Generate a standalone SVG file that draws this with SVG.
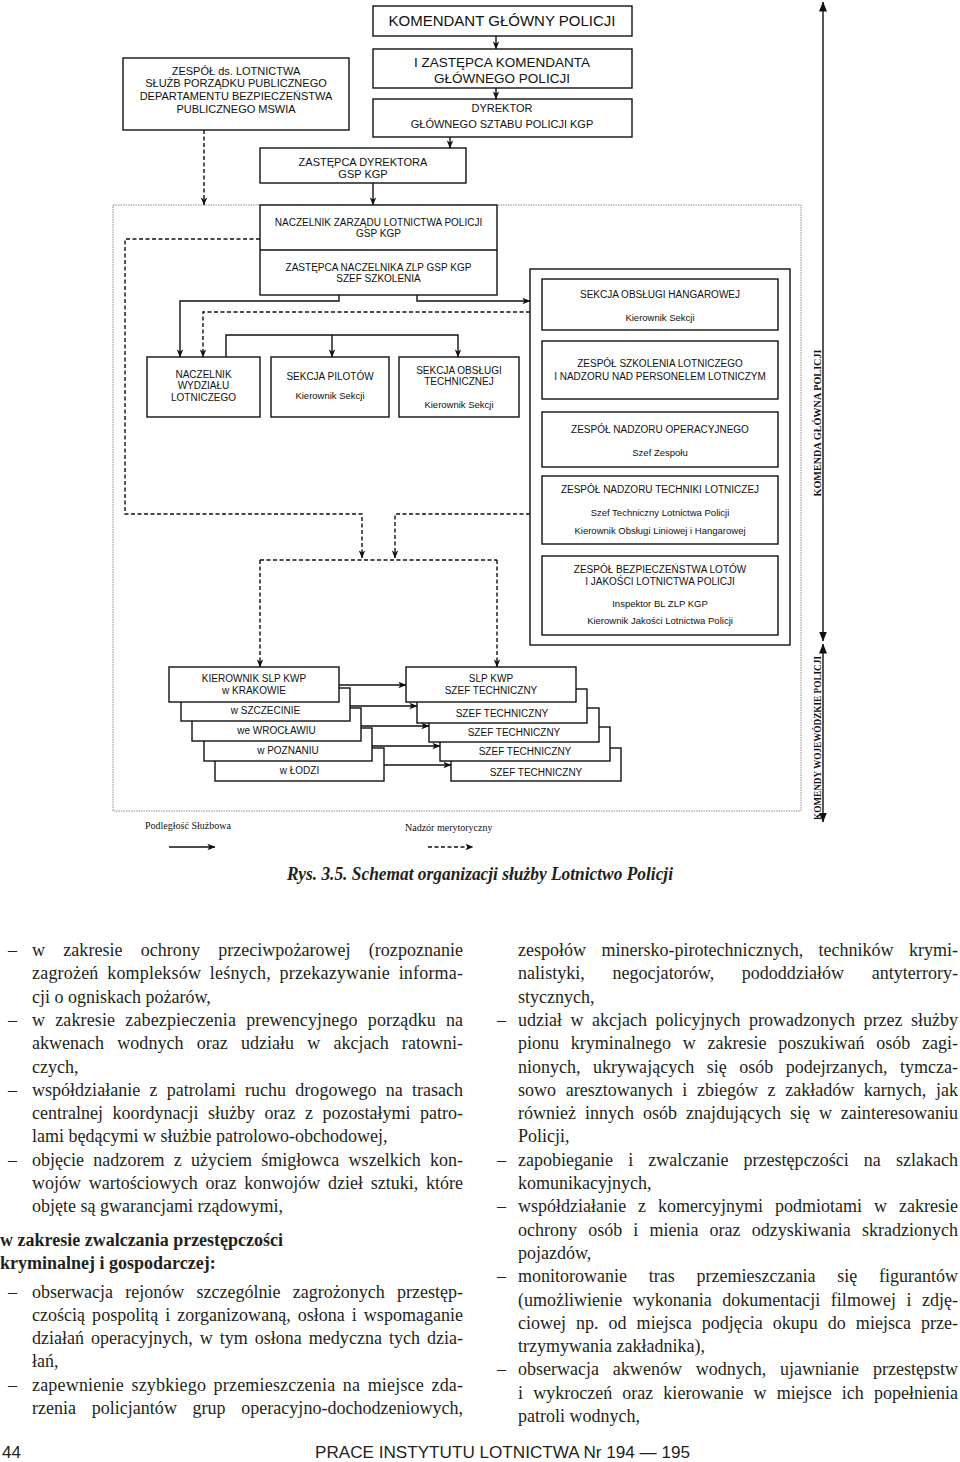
<svg xmlns="http://www.w3.org/2000/svg" width="960" height="1462" viewBox="0 0 960 1462">
<style>
.box{fill:#fff;stroke:#111;stroke-width:1.4}
.t{font-family:"Liberation Sans",Arial,sans-serif;font-size:10px;fill:#111;text-anchor:middle}
.ln{fill:none;stroke:#111;stroke-width:1.4}
.dl{fill:none;stroke:#111;stroke-width:1.4;stroke-dasharray:4 2.5}
.bd{fill:none;stroke:#8a8a8a;stroke-width:1;stroke-dasharray:1.5 1}
.vt{font-family:"Liberation Serif","Times New Roman",serif;font-weight:bold;fill:#111;text-anchor:middle}
.lg{font-family:"Liberation Serif","Times New Roman",serif;font-size:10px;fill:#111}
.b{font-family:"Liberation Serif","Times New Roman",serif;font-size:18px;fill:#231f20}
.bb{font-family:"Liberation Serif","Times New Roman",serif;font-size:18px;font-weight:bold;fill:#231f20}
</style>
<defs>
<marker id="a" viewBox="0 0 10 10" refX="9.5" refY="5" markerWidth="8" markerHeight="8" markerUnits="userSpaceOnUse" orient="auto-start-reverse"><path d="M0,1 L10,5 L0,9 L2.5,5 z" fill="#111"/></marker>
<marker id="b" viewBox="0 0 10 10" refX="9.5" refY="5" markerWidth="10" markerHeight="10" markerUnits="userSpaceOnUse" orient="auto-start-reverse"><path d="M0,1 L10,5 L0,9 z" fill="#111"/></marker>
</defs>
<rect width="960" height="1462" fill="#fff"/>

<rect class="bd" x="113" y="205" width="688" height="606"/>

<g id="connectors">
<path class="ln" d="M496,36 V49" marker-end="url(#a)"/>
<path class="ln" d="M496,88 V99" marker-end="url(#a)"/>
<path class="ln" d="M450,137 V148" marker-end="url(#a)"/>
<path class="ln" d="M373,183 V205" marker-end="url(#a)"/>
<path class="dl" d="M204,130 V205" marker-end="url(#a)"/>
<path class="ln" d="M339,295 V301 H180 V357" marker-end="url(#a)"/>
<path class="ln" d="M417,295 V301 H530" marker-end="url(#a)"/>
<path class="dl" d="M530,312 H203 V357" marker-end="url(#a)"/>
<path class="ln" d="M226,357 V335 H458 V357" marker-end="url(#a)"/>
<path class="ln" d="M332,335 V357" marker-end="url(#a)"/>
<path class="dl" d="M260,239 H125 V514 H362 V558" marker-end="url(#a)"/>
<path class="dl" d="M530,514 H395 V558" marker-end="url(#a)"/>
<path class="dl" d="M260,560 H497"/>
<path class="dl" d="M260,560 V667" marker-end="url(#a)"/>
<path class="dl" d="M497,560 V667" marker-end="url(#a)"/>
<path class="ln" d="M339,685 H406" marker-end="url(#a)"/>
<path class="ln" d="M350,706 H417" marker-end="url(#a)"/>
<path class="ln" d="M361,726 H429" marker-end="url(#a)"/>
<path class="ln" d="M372,746 H440" marker-end="url(#a)"/>
<path class="ln" d="M384,765 H451" marker-end="url(#a)"/>
<path class="ln" d="M823,641 V2" stroke-width="2" marker-start="url(#b)" marker-end="url(#b)"/>
<path class="ln" d="M823,644 V822" stroke-width="2" marker-start="url(#b)" marker-end="url(#b)"/>
<path class="ln" d="M169,847 H215" marker-end="url(#a)"/>
<path class="dl" d="M428,847 H473" marker-end="url(#a)"/>
</g>

<g id="kgp"><rect class="box" x="373" y="6" width="259" height="30"/><text class="t" x="502" y="26" style="font-size:15px">KOMENDANT GŁÓWNY POLICJI</text></g>
<g id="izast"><rect class="box" x="373" y="49" width="259" height="39"/><text class="t" x="502" y="67" style="font-size:13.5px">I ZASTĘPCA KOMENDANTA</text><text class="t" x="502" y="83" style="font-size:13.5px">GŁÓWNEGO POLICJI</text></g>
<g id="dyr"><rect class="box" x="373" y="99" width="259" height="38"/><text class="t" x="502" y="112" style="font-size:11px">DYREKTOR</text><text class="t" x="502" y="128" style="font-size:11px">GŁÓWNEGO SZTABU POLICJI KGP</text></g>
<g id="mswia"><rect class="box" x="123" y="58" width="226" height="72"/>
<text class="t" x="236" y="74.5" style="font-size:11px">ZESPÓŁ ds. LOTNICTWA</text>
<text class="t" x="236" y="87" style="font-size:11px">SŁUŻB PORZĄDKU PUBLICZNEGO</text>
<text class="t" x="236" y="100" style="font-size:11px">DEPARTAMENTU BEZPIECZEŃSTWA</text>
<text class="t" x="236" y="113" style="font-size:11px">PUBLICZNEGO MSWIA</text></g>
<g id="zdyr"><rect class="box" x="260" y="148" width="206" height="35"/><text class="t" x="363" y="166" style="font-size:11px">ZASTĘPCA DYREKTORA</text><text class="t" x="363" y="177.5" style="font-size:11px">GSP KGP</text></g>
<g id="nacz"><rect class="box" x="260" y="205" width="237" height="90"/><line class="ln" x1="260" y1="250" x2="497" y2="250"/>
<text class="t" x="378.5" y="225.5">NACZELNIK ZARZĄDU LOTNICTWA POLICJI</text>
<text class="t" x="378.5" y="236.5">GSP KGP</text>
<text class="t" x="378.5" y="270.5">ZASTĘPCA NACZELNIKA ZLP GSP KGP</text>
<text class="t" x="378.5" y="281.5">SZEF SZKOLENIA</text></g>
<g id="nwl"><rect class="box" x="147" y="357" width="113" height="60"/>
<text class="t" x="203.5" y="377.5">NACZELNIK</text><text class="t" x="203.5" y="389">WYDZIAŁU</text><text class="t" x="203.5" y="400.5">LOTNICZEGO</text></g>
<g id="sp"><rect class="box" x="271" y="357" width="118" height="60"/>
<text class="t" x="330" y="379.5">SEKCJA PILOTÓW</text><text class="t" x="330" y="398.5" style="font-size:9.5px">Kierownik Sekcji</text></g>
<g id="sot"><rect class="box" x="399" y="357" width="120" height="60"/>
<text class="t" x="459" y="373.5">SEKCJA OBSŁUGI</text><text class="t" x="459" y="384.5">TECHNICZNEJ</text><text class="t" x="459" y="407.5" style="font-size:9.5px">Kierownik Sekcji</text></g>

<g id="container"><rect class="box" x="530" y="269" width="260" height="376"/></g>
<g id="soh"><rect class="box" x="542" y="279" width="236" height="51"/>
<text class="t" x="660" y="297.5">SEKCJA OBSŁUGI HANGAROWEJ</text><text class="t" x="660" y="320.5" style="font-size:9.5px">Kierownik Sekcji</text></g>
<g id="zsl"><rect class="box" x="542" y="341" width="236" height="58"/>
<text class="t" x="660" y="366.5">ZESPÓŁ SZKOLENIA LOTNICZEGO</text><text class="t" x="660" y="379.5">I NADZORU NAD PERSONELEM LOTNICZYM</text></g>
<g id="zno"><rect class="box" x="542" y="412" width="236" height="55"/>
<text class="t" x="660" y="432.5">ZESPÓŁ NADZORU OPERACYJNEGO</text><text class="t" x="660" y="455.5" style="font-size:9.5px">Szef Zespołu</text></g>
<g id="znt"><rect class="box" x="542" y="476" width="236" height="68"/>
<text class="t" x="660" y="492.5">ZESPÓŁ NADZORU TECHNIKI LOTNICZEJ</text><text class="t" x="660" y="515.5" style="font-size:9.5px">Szef Techniczny Lotnictwa Policji</text><text class="t" x="660" y="533.5" style="font-size:9.5px">Kierownik Obsługi Liniowej i Hangarowej</text></g>
<g id="zbl"><rect class="box" x="542" y="556" width="236" height="79"/>
<text class="t" x="660" y="572.5">ZESPÓŁ BEZPIECZEŃSTWA LOTÓW</text><text class="t" x="660" y="584.5">I JAKOŚCI LOTNICTWA POLICJI</text><text class="t" x="660" y="606.5" style="font-size:9.5px">Inspektor BL ZLP KGP</text><text class="t" x="660" y="623.5" style="font-size:9.5px">Kierownik Jakości Lotnictwa Policji</text></g>

<g id="lodz"><rect class="box" x="215" y="748" width="169" height="33"/><text class="t" x="299.5" y="773.5">w ŁODZI</text></g>
<g id="poznan"><rect class="box" x="204" y="728" width="168" height="33"/><text class="t" x="288" y="753.5">w POZNANIU</text></g>
<g id="wroclaw"><rect class="box" x="192" y="708" width="169" height="33"/><text class="t" x="276.5" y="733.5">we WROCŁAWIU</text></g>
<g id="szczecin"><rect class="box" x="181" y="688" width="169" height="33"/><text class="t" x="265.5" y="713.5">w SZCZECINIE</text></g>
<g id="krakow"><rect class="box" x="169" y="667" width="170" height="35"/><text class="t" x="254" y="681.5">KIEROWNIK SLP KWP</text><text class="t" x="254" y="693.5">w KRAKOWIE</text></g>

<g id="st5"><rect class="box" x="451" y="748" width="170" height="33"/><text class="t" x="536" y="775.5">SZEF TECHNICZNY</text></g>
<g id="st4"><rect class="box" x="440" y="727" width="170" height="34"/><text class="t" x="525" y="754.5">SZEF TECHNICZNY</text></g>
<g id="st3"><rect class="box" x="429" y="708" width="170" height="34"/><text class="t" x="514" y="735.5">SZEF TECHNICZNY</text></g>
<g id="st2"><rect class="box" x="417" y="689" width="170" height="34"/><text class="t" x="502" y="716.5">SZEF TECHNICZNY</text></g>
<g id="st1"><rect class="box" x="406" y="667" width="170" height="35"/><text class="t" x="491" y="681.5">SLP KWP</text><text class="t" x="491" y="693.5">SZEF TECHNICZNY</text></g>

<g id="side-labels">
<text class="vt" transform="translate(821,423) rotate(-90)" font-size="10.5" textLength="147" lengthAdjust="spacingAndGlyphs">KOMENDA GŁÓWNA POLICJI</text>
<text class="vt" transform="translate(821,738) rotate(-90)" font-size="9.5" textLength="164" lengthAdjust="spacingAndGlyphs">KOMENDY WOJEWÓDZKIE POLICJI</text>
</g>

<g id="legend">
<text class="lg" x="145" y="829">Podległość Służbowa</text>
<text class="lg" x="405" y="831">Nadzór merytoryczny</text>
</g>

<text x="480" y="880" text-anchor="middle" font-family="'Liberation Serif','Times New Roman',serif" font-size="18" font-weight="bold" font-style="italic" fill="#231f20" textLength="386" lengthAdjust="spacingAndGlyphs">Rys. 3.5. Schemat organizacji służby Lotnictwo Policji</text>

<g id="left-column">
<text class="b" x="8" y="956">–</text><text class="b" x="32" y="956" style="word-spacing:13.8px" textLength="431" lengthAdjust="spacing">w zakresie ochrony przeciwpożarowej (rozpoznanie</text>
<text class="b" x="32" y="979.3" style="word-spacing:4px" textLength="431" lengthAdjust="spacing">zagrożeń kompleksów leśnych, przekazywanie informa-</text>
<text class="b" x="32" y="1002.6">cji o ogniskach pożarów,</text>
<text class="b" x="8" y="1025.9">–</text><text class="b" x="32" y="1025.9" style="word-spacing:5.5px" textLength="431" lengthAdjust="spacing">w zakresie zabezpieczenia prewencyjnego porządku na</text>
<text class="b" x="32" y="1049.2" style="word-spacing:8.7px" textLength="431" lengthAdjust="spacing">akwenach wodnych oraz udziału w akcjach ratowni-</text>
<text class="b" x="32" y="1072.5">czych,</text>
<text class="b" x="8" y="1095.8">–</text><text class="b" x="32" y="1095.8" style="word-spacing:4.7px" textLength="431" lengthAdjust="spacing">współdziałanie z patrolami ruchu drogowego na trasach</text>
<text class="b" x="32" y="1119.1" style="word-spacing:4.9px" textLength="431" lengthAdjust="spacing">centralnej koordynacji służby oraz z pozostałymi patro-</text>
<text class="b" x="32" y="1142.4">lami będącymi w służbie patrolowo-obchodowej,</text>
<text class="b" x="8" y="1165.7">–</text><text class="b" x="32" y="1165.7" style="word-spacing:4.7px" textLength="431" lengthAdjust="spacing">objęcie nadzorem z użyciem śmigłowca wszelkich kon-</text>
<text class="b" x="32" y="1189" style="word-spacing:3.2px" textLength="431" lengthAdjust="spacing">wojów wartościowych oraz konwojów dzieł sztuki, które</text>
<text class="b" x="32" y="1212.3">objęte są gwarancjami rządowymi,</text>
<text class="bb" x="0" y="1245.5">w zakresie zwalczania przestępczości</text>
<text class="bb" x="0" y="1268.8">kryminalnej i gospodarczej:</text>
<text class="b" x="8" y="1297.5">–</text><text class="b" x="32" y="1297.5" style="word-spacing:7.6px" textLength="431" lengthAdjust="spacing">obserwacja rejonów szczególnie zagrożonych przestęp-</text>
<text class="b" x="32" y="1320.8" style="word-spacing:2.5px" textLength="431" lengthAdjust="spacing">czością pospolitą i zorganizowaną, osłona i wspomaganie</text>
<text class="b" x="32" y="1344.1" style="word-spacing:2.5px" textLength="431" lengthAdjust="spacing">działań operacyjnych, w tym osłona medyczna tych dzia-</text>
<text class="b" x="32" y="1367.4">łań,</text>
<text class="b" x="8" y="1390.7">–</text><text class="b" x="32" y="1390.7" style="word-spacing:2.8px" textLength="431" lengthAdjust="spacing">zapewnienie szybkiego przemieszczenia na miejsce zda-</text>
<text class="b" x="32" y="1414" style="word-spacing:11.2px" textLength="431" lengthAdjust="spacing">rzenia policjantów grup operacyjno-dochodzeniowych,</text>
</g>

<g id="right-column">
<text class="b" x="518" y="956" style="word-spacing:10.8px" textLength="440" lengthAdjust="spacing">zespołów minersko-pirotechnicznych, techników krymi-</text>
<text class="b" x="518" y="979.3" style="word-spacing:23px" textLength="440" lengthAdjust="spacing">nalistyki, negocjatorów, pododdziałów antyterrory-</text>
<text class="b" x="518" y="1002.6">stycznych,</text>
<text class="b" x="497" y="1025.9">–</text><text class="b" x="518" y="1025.9" style="word-spacing:3.9px" textLength="440" lengthAdjust="spacing">udział w akcjach policyjnych prowadzonych przez służby</text>
<text class="b" x="518" y="1049.2" style="word-spacing:7.2px" textLength="440" lengthAdjust="spacing">pionu kryminalnego w zakresie poszukiwań osób zagi-</text>
<text class="b" x="518" y="1072.5" style="word-spacing:8px" textLength="440" lengthAdjust="spacing">nionych, ukrywających się osób podejrzanych, tymcza-</text>
<text class="b" x="518" y="1095.8" style="word-spacing:5.1px" textLength="440" lengthAdjust="spacing">sowo aresztowanych i zbiegów z zakładów karnych, jak</text>
<text class="b" x="518" y="1119.1" style="word-spacing:4.4px" textLength="440" lengthAdjust="spacing">również innych osób znajdujących się w zainteresowaniu</text>
<text class="b" x="518" y="1142.4">Policji,</text>
<text class="b" x="497" y="1165.7">–</text><text class="b" x="518" y="1165.7" style="word-spacing:10.6px" textLength="440" lengthAdjust="spacing">zapobieganie i zwalczanie przestępczości na szlakach</text>
<text class="b" x="518" y="1189">komunikacyjnych,</text>
<text class="b" x="497" y="1212.3">–</text><text class="b" x="518" y="1212.3" style="word-spacing:7.4px" textLength="440" lengthAdjust="spacing">współdziałanie z komercyjnymi podmiotami w zakresie</text>
<text class="b" x="518" y="1235.6" style="word-spacing:6.6px" textLength="440" lengthAdjust="spacing">ochrony osób i mienia oraz odzyskiwania skradzionych</text>
<text class="b" x="518" y="1258.9">pojazdów,</text>
<text class="b" x="497" y="1282.2">–</text><text class="b" x="518" y="1282.2" style="word-spacing:17.2px" textLength="440" lengthAdjust="spacing">monitorowanie tras przemieszczania się figurantów</text>
<text class="b" x="518" y="1305.5" style="word-spacing:6px" textLength="440" lengthAdjust="spacing">(umożliwienie wykonania dokumentacji filmowej i zdję-</text>
<text class="b" x="518" y="1328.8" style="word-spacing:5.5px" textLength="440" lengthAdjust="spacing">ciowej np. od miejsca podjęcia okupu do miejsca prze-</text>
<text class="b" x="518" y="1352.1">trzymywania zakładnika),</text>
<text class="b" x="497" y="1375.4">–</text><text class="b" x="518" y="1375.4" style="word-spacing:9.3px" textLength="440" lengthAdjust="spacing">obserwacja akwenów wodnych, ujawnianie przestępstw</text>
<text class="b" x="518" y="1398.7" style="word-spacing:5.6px" textLength="440" lengthAdjust="spacing">i wykroczeń oraz kierowanie w miejsce ich popełnienia</text>
<text class="b" x="518" y="1422">patroli wodnych,</text>
</g>

<g id="footer">
<text x="2" y="1458" font-family="'Liberation Sans',Arial,sans-serif" font-size="17" fill="#231f20">44</text>
<text x="315" y="1458" font-family="'Liberation Sans',Arial,sans-serif" font-size="17" fill="#231f20" textLength="375" lengthAdjust="spacingAndGlyphs">PRACE INSTYTUTU LOTNICTWA Nr 194 — 195</text>
</g>
</svg>
